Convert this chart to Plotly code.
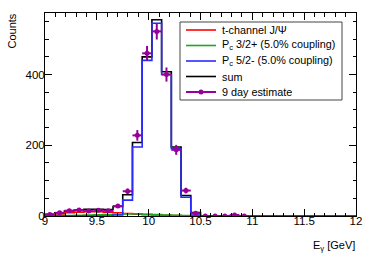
import numpy as np
import plotly.graph_objects as go

# 32 bins between 9 and 12 GeV
x_min, x_max, n_bins = 9.0, 12.0, 32

t_channel = [3, 6, 9, 11, 12, 12, 11, 9, 7, 5, 4, 3, 2, 1, 0.5, 0.2] + [0] * 16
pc_32 = [0.5, 1, 1.5, 2, 3, 3.5, 4, 5, 6, 6, 5, 4, 3, 2, 1, 0.5] + [0] * 16
pc_52 = [0, 0, 0, 0, 0, 0, 0, 3, 45, 195, 440, 545, 400, 190, 53, 3] + [0] * 16
sum_hist = [5, 9, 14, 17, 19, 19, 18, 27, 60, 208, 450, 555, 408, 195, 58, 10] + [0] * 16

est_counts = [4, 9, 15, 17, 14, 16, 15, 28, 70, 228, 460, 522, 400, 187, 72, 8, 0, 0, 0, 3, 0]
est_err = [2, 3, 4, 4, 4, 4, 4, 5, 8, 15, 21, 23, 20, 14, 8, 3, 0, 0, 0, 2, 0]

x_ticks = [9, 9.5, 10, 10.5, 11, 11.5, 12]
x_tick_labels = ["9", "9.5", "10", "10.5", "11", "11.5", "12"]
y_ticks = [0, 200, 400]
y_tick_labels = ["0", "200", "400"]

legend_names = ["t-channel J/Ψ", "P<sub>c</sub> 3/2+ (5.0% coupling)",
                "P<sub>c</sub> 5/2- (5.0% coupling)", "sum", "9 day estimate"]

C_T, C_32, C_52, C_SUM, C_EST = "#ff0000", "#1fa51f", "#2a2aff", "#000000", "#990099"

edges = np.linspace(x_min, x_max, n_bins + 1)
centers = 0.5 * (edges[:-1] + edges[1:])
half_w = 0.5 * (edges[1] - edges[0])

FONT = "Liberation Sans, Arial, sans-serif"
W, H = 374, 255
ML, MR, MT, MB = 45, 18, 13, 39
PW, PH = W - ML - MR, H - MT - MB


def px(x):
    return (x - ML) / PW


def py(y):
    return (H - MB - y) / PH


def step(vals):
    v = list(vals)
    return list(edges), v + [v[-1]]


fig = go.Figure()

for name, vals, col in [
    (legend_names[3], sum_hist, C_SUM),
    (legend_names[0], t_channel, C_T),
    (legend_names[1], pc_32, C_32),
    (legend_names[2], pc_52, C_52),
]:
    xs, ys = step(vals)
    fig.add_trace(go.Scatter(
        x=xs, y=ys, mode="lines", name=name, showlegend=False,
        line=dict(color=col, width=1.6, shape="hv"),
    ))

n_est = len(est_counts)
fig.add_trace(go.Scatter(
    x=list(centers[:n_est]), y=est_counts, mode="markers", name=legend_names[4],
    showlegend=False,
    marker=dict(color=C_EST, size=5),
    error_y=dict(type="data", array=est_err, color=C_EST, thickness=2, width=0),
    error_x=dict(type="constant", value=half_w, color=C_EST, thickness=2, width=0),
))

axis_common = dict(
    showline=True, linecolor="black", linewidth=1, mirror="allticks",
    ticks="inside", tickcolor="black", showgrid=False, zeroline=False,
    tickfont=dict(family=FONT, size=11.5, color="black"),
)
fig.update_xaxes(
    range=[x_min, x_max], tickvals=x_ticks, ticktext=x_tick_labels, ticklen=7,
    ticklabelstandoff=-6,
    minor=dict(ticks="inside", ticklen=3.5, dtick=0.1, tick0=9, tickcolor="black", showgrid=False),
    **axis_common,
)
fig.update_yaxes(
    range=[0, 574], tickvals=y_ticks, ticktext=y_tick_labels, ticklen=7,
    ticklabelstandoff=-3,
    minor=dict(ticks="inside", ticklen=3.5, dtick=50, tick0=0, tickcolor="black", showgrid=False),
    **axis_common,
)

# legend box (ROOT TLegend style)
shapes = [dict(type="rect", xref="paper", yref="paper",
               x0=px(180), x1=px(342), y0=py(100), y1=py(22),
               line=dict(color="#444444", width=1), fillcolor="white", layer="above")]
annotations = []
row_y = [30, 45.5, 61, 76.5, 92]
row_cols = [C_T, C_32, C_52, C_SUM, C_EST]
for name, col, yy in zip(legend_names, row_cols, row_y):
    shapes.append(dict(type="line", xref="paper", yref="paper",
                       x0=px(186), x1=px(216), y0=py(yy), y1=py(yy),
                       line=dict(color=col, width=2 if col == C_EST else 1.6), layer="above"))
    annotations.append(dict(text=name, x=px(220), y=py(yy), xref="paper", yref="paper",
                            xanchor="left", yanchor="middle", showarrow=False,
                            font=dict(family=FONT, size=10.8, color="black")))
shapes.append(dict(type="circle", xref="paper", yref="paper",
                   x0=px(198.5), x1=px(203.5), y0=py(row_y[4] + 2.5), y1=py(row_y[4] - 2.5),
                   line=dict(color=C_EST, width=0), fillcolor=C_EST, layer="above"))

annotations += [
    dict(text="Counts", textangle=-90, x=px(12), y=py(12), xref="paper", yref="paper",
         showarrow=False, font=dict(family=FONT, size=11, color="black"),
         xanchor="center", yanchor="top"),
    dict(text="E<sub>γ</sub> [GeV]", x=px(357), y=py(237), xref="paper", yref="paper",
         showarrow=False, font=dict(family=FONT, size=11, color="black"),
         xanchor="right", yanchor="top"),
]

fig.update_layout(
    width=W, height=H,
    margin=dict(l=ML, r=MR, t=MT, b=MB, autoexpand=False),
    paper_bgcolor="white", plot_bgcolor="white",
    font=dict(family=FONT, size=11, color="black"),
    showlegend=False, hovermode=False,
    shapes=shapes, annotations=annotations,
)

fig.write_html("out.html", config={"displayModeBar": False, "staticPlot": True},
               post_script="document.body.style.margin='0';")
